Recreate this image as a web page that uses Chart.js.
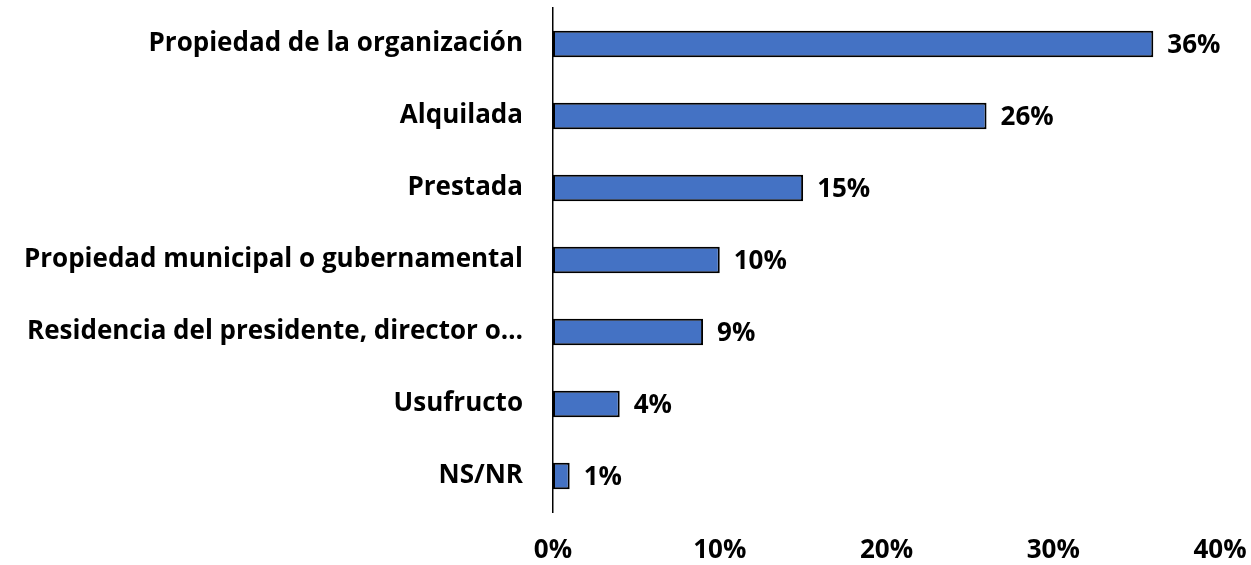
<!DOCTYPE html>
<html>
<head>
<meta charset="utf-8">
<script src="https://cdn.jsdelivr.net/npm/chart.js@4"></script>
<style>
  html, body { margin: 0; padding: 0; background: #ffffff; }
  #wrap { width: 1251px; height: 565px; position: relative; }
</style>
</head>
<body>
<div id="wrap"><canvas id="tenureChart"></canvas></div>
<script>
// Tipo de tenencia del local
const categories = [
  'Propiedad de la organización',
  'Alquilada',
  'Prestada',
  'Propiedad municipal o gubernamental',
  'Residencia del presidente, director o…',
  'Usufructo',
  'NS/NR'
];
const shares = [36, 26, 15, 10, 9, 4, 1];
const tickValues = [0, 10, 20, 30, 40];

const FONT = '"Open Sans", Lato, sans-serif';
const FONT_SIZE = 26;

// Percent labels at the end of each bar
const barValueLabels = {
  id: 'barValueLabels',
  afterDatasetsDraw(chart) {
    const ctx = chart.ctx;
    const meta = chart.getDatasetMeta(0);
    ctx.save();
    ctx.font = 'bold ' + FONT_SIZE + 'px ' + FONT;
    ctx.fillStyle = '#000000';
    ctx.textAlign = 'left';
    ctx.textBaseline = 'middle';
    meta.data.forEach((bar, i) => {
      ctx.fillText(shares[i] + '%', bar.x + 14, bar.y + 2);
    });
    ctx.restore();
  }
};

new Chart(document.getElementById('tenureChart'), {
  type: 'bar',
  data: {
    labels: categories,
    datasets: [{
      data: shares,
      backgroundColor: '#4472C4',
      borderColor: '#000000',
      borderWidth: 2,
      borderSkipped: false,
      barPercentage: 0.37,
      categoryPercentage: 1
    }]
  },
  options: {
    indexAxis: 'y',
    responsive: true,
    maintainAspectRatio: false,
    animation: false,
    layout: {
      padding: { top: 8, right: 31, left: 0, bottom: 0 }
    },
    plugins: {
      legend: { display: false },
      tooltip: { enabled: false }
    },
    scales: {
      x: {
        min: 0,
        max: 40,
        afterBuildTicks: (scale) => {
          scale.ticks = tickValues.map(v => ({ value: v }));
        },
        afterFit: (scale) => {
          scale.height = 53;
          scale.paddingLeft = 0;
          scale.paddingRight = 0;
        },
        grid: { display: false, drawTicks: false },
        border: { display: false },
        ticks: {
          padding: 23,
          color: '#000000',
          font: { family: FONT, size: FONT_SIZE, weight: 'bold' },
          callback: (v) => v + '%'
        }
      },
      y: {
        afterFit: (scale) => {
          scale.width = 553;
          scale.paddingTop = 0;
          scale.paddingBottom = 0;
        },
        grid: { display: false, drawTicks: false },
        border: { display: true, color: '#000000', width: 1.5 },
        ticks: {
          padding: 30,
          color: '#000000',
          font: { family: FONT, size: FONT_SIZE, weight: 'bold' }
        }
      }
    }
  },
  plugins: [barValueLabels]
});
</script>
</body>
</html>
